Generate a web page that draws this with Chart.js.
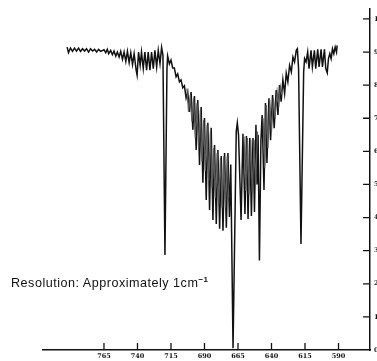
<!DOCTYPE html>
<html>
<head>
<meta charset="utf-8">
<script src="https://cdn.jsdelivr.net/npm/chart.js@4"></script>
<style>
html, body { margin: 0; padding: 0; background: #fff; overflow: hidden; }
#wrap { position: relative; width: 377px; height: 361px; }
#note { position: absolute; left: 11px; top: 276px; font: 12.6px "Liberation Sans", sans-serif; letter-spacing: 0.5px; color: #111; white-space: nowrap; }
#note sup { font-size: 8px; font-weight: bold; line-height: 0; }
</style>
</head>
<body>
<div id="wrap">
<canvas id="spectrum" width="377" height="361"></canvas>
<div id="note">Resolution: Approximately 1cm<sup>−1</sup></div>
</div>
<script>
// main trace
const wavenumbers = [
  792.5, 791.5, 790, 788.5, 787, 785.5, 784, 782.5, 781, 779.5, 778, 776.5, 775, 773.5, 772, 770.5, 769, 767.5, 765, 763.7,
  762.5, 761.5, 760, 758.7, 757.5, 756.2, 755, 753.7, 752.5, 751.2, 750, 748.7, 747.5, 746.2, 745, 743.7, 742.5, 741, 740.3,
  739.2, 738, 737, 735.7, 734.5, 733.2, 732, 730.7, 729.5, 728.2, 727, 725.7, 724.5, 723.2, 722, 721, 719.5, 718,
  717.5, 716.2, 715, 713.7, 712.5, 711.2, 710, 708.7, 707.5, 706.2, 705, 703.7, 702.5, 701.2, 700, 698.7, 697.5, 696.2, 695, 693.7,
  692.5, 691.2, 690, 688.7, 687.5, 686.2, 685, 683.7, 682.5, 681.2, 680, 678.7, 677.5, 676.2, 675, 673.7, 672.5, 671.4, 670.4, 668.7, 666.3,
  665.5, 664.6, 662.7, 661.3, 659.8, 658.7, 657.5, 656.2, 655, 653.8, 652.7, 651.6, 650.8, 650, 649, 647.9, 647, 645.6, 644.5, 643.4,
  641.9, 640.7, 639.2, 638, 636.5, 635.2, 634, 632.8, 631.5, 630.2, 629, 627.8, 626.5, 625.2, 624, 622.8, 621.5, 620.7, 619.8, 618, 616, 615.3,
  614.2, 613, 612, 610.5, 609.5, 608, 607, 605.5, 604.5, 603, 602, 600.5, 599.5, 598.4, 597.5, 596.5, 595.5, 594.5, 593.5, 592.5, 591.5, 591
];
const transmission = [
  9.15, 8.98, 9.12, 9.02, 9.12, 9.03, 9.12, 9.02, 9.1, 9.03, 9.1, 9.0, 9.1, 9.03, 9.08, 9.0, 9.08, 9.02, 9.07, 8.98,
  9.08, 8.95, 9.05, 8.92, 9.03, 8.88, 9.0, 8.85, 9.02, 8.78, 9.0, 8.72, 9.02, 8.68, 8.98, 8.62, 8.95, 8.45, 8.3,
  9.0, 8.6, 9.0, 8.5, 9.0, 8.45, 9.0, 8.45, 9.0, 8.5, 9.05, 8.55, 9.05, 8.65, 9.14, 8.9, 2.87, 8.5,
  8.88, 8.64, 8.76, 8.52, 8.52, 8.25, 8.34, 8.1, 8.16, 7.92, 7.98, 7.61, 7.79, 7.19, 7.79, 6.65, 7.67, 6.04, 7.55, 5.59,
  7.34, 5.05, 7.01, 4.53, 6.86, 4.23, 6.71, 3.93, 6.19, 3.81, 6.04, 3.66, 5.86, 3.6, 5.95, 3.69, 5.95, 4.02, 5.6, 0.05, 6.6,
  6.86, 6.5, 3.93, 6.53, 4.11, 6.46, 3.96, 6.4, 4.05, 6.4, 4.17, 6.8, 5.0, 6.5, 2.7, 6.3, 7.1, 4.83, 7.46, 5.65,
  7.6, 6.34, 7.7, 6.7, 7.85, 7.1, 8.0, 7.5, 8.16, 7.75, 8.36, 8.1, 8.6, 8.4, 8.85, 8.7, 9.05, 9.1, 8.5, 3.2, 8.4, 8.8,
  8.7, 9.0, 8.5, 9.05, 8.55, 9.05, 8.5, 9.08, 8.55, 9.08, 8.55, 9.08, 8.5, 8.37, 8.8, 8.95, 8.8, 9.1, 8.95, 9.15, 9.0, 9.2
];

// fainter overlapping lines in the two wings
const hotWavenumbers = [
  703.1, 701.9, 700.6, 699.4, 698.1, 696.9, 695.6, 694.4, 693.1, 691.9, 690.6, 689.4, 688.1, 686.9, 685.6, 684.4, 683.1, 681.9, 680.6, 679.4, 678.1, 676.9, 675.6, 674.4, 673.1, 672,
  660.5,
  660.5, 659.2, 658, 656.8, 655.5, 654.3, 653, 651.8, 650.5,
  646.3,
  646.3, 645, 643.9, 642.7, 641.3, 640, 638.6, 637.4, 635.8, 634.6, 633.4, 632.2
];
const hotTransmission = [
  7.9, 7.2, 7.7, 6.9, 7.6, 6.4, 7.45, 6.1, 7.25, 5.7, 6.95, 5.4, 6.8, 5.1, 6.6, 4.9, 6.1, 4.6, 5.95, 4.4, 5.8, 4.3, 5.85, 4.3, 5.85, 4.6,
  null,
  6.45, 4.8, 6.4, 4.7, 6.35, 4.75, 6.35, 5, 6.6,
  null,
  7.0, 5.5, 7.4, 6.1, 7.55, 6.6, 7.6, 7.0, 7.8, 7.4, 7.95, 7.7
];

const xTicks = [765, 740, 715, 690, 665, 640, 615, 590];
const yTicks = [0, 1, 2, 3, 4, 5, 6, 7, 8, 9, 10];

const xMin = 566.5;
const ink = '#111111';
const tickFont = { family: 'DejaVu Serif', size: 6.5, weight: 'bold' };

// tick marks point into the plot, so they go in as short line pieces
const tickPieces = [];
xTicks.forEach(v => {
    tickPieces.push({ x: v, y: 0 }, { x: v, y: 0.21 }, { x: v, y: null });
});
yTicks.forEach(v => {
    tickPieces.push({ x: xMin, y: v }, { x: xMin + 5.2, y: v }, { x: xMin + 5.2, y: null });
});

new Chart(document.getElementById('spectrum').getContext('2d'), {
    type: 'line',
    data: {
        datasets: [
            {
                data: hotWavenumbers.map((w, i) => ({ x: w, y: hotTransmission[i] })),
                borderColor: '#5c5c5c',
                borderWidth: 1.2,
                pointRadius: 0,
                tension: 0
            },
            {
                data: wavenumbers.map((w, i) => ({ x: w, y: transmission[i] })),
                borderColor: ink,
                borderWidth: 1.5,
                pointRadius: 0,
                tension: 0
            },
            {
                data: tickPieces,
                borderColor: ink,
                borderWidth: 1.3,
                pointRadius: 0,
                tension: 0
            }
        ]
    },
    options: {
        responsive: false,
        animation: false,
        layout: { padding: { left: 43, top: 9, right: 0, bottom: 0 } },
        plugins: { legend: { display: false }, tooltip: { enabled: false } },
        scales: {
            x: {
                type: 'linear',
                reverse: true,
                min: xMin,
                max: 810.5,
                afterBuildTicks: axis => { axis.ticks = xTicks.map(v => ({ value: v })); },
                afterFit: axis => { axis.height = 11; axis.paddingLeft = 0; axis.paddingRight = 0; },
                border: { color: ink, width: 1.5 },
                grid: { drawOnChartArea: false, drawTicks: false },
                ticks: { color: ink, font: tickFont, padding: 2, maxRotation: 0, autoSkip: false }
            },
            y: {
                position: 'right',
                min: 0,
                max: 10.3,
                afterBuildTicks: axis => { axis.ticks = yTicks.map(v => ({ value: v })); },
                afterFit: axis => { axis.width = 7; axis.paddingTop = 0; axis.paddingBottom = 0; },
                border: { color: ink, width: 1.5 },
                grid: { drawOnChartArea: false, drawTicks: false },
                ticks: { color: ink, font: tickFont, padding: 4, autoSkip: false }
            }
        }
    }
});
</script>
</body>
</html>
